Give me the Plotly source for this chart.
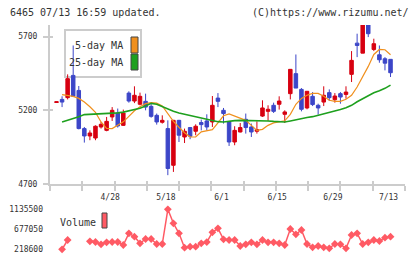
import plotly.graph_objects as go

# ---------------- data ----------------
idx = list(range(61))
opens = [5253, 5274, 5286, 5437, 5335, 5076, 5026, 5012, 5087, 5064,
         5155, 5182, 5098, 5317, 5263, 5241, 5261, 5227, 5166, 5119,
         5076, 4827, 5132, 5019, 5083, 5058, 5117, 5128, 5121, 5283,
         5200, 5121, 4985, 5053, 5139, 5087, 5058, 5161, 5193, 5234,
         5241, 5173, 5313, 5449, 5342, 5216, 5295, 5234, 5256, 5320,
         5272, 5313, 5308, 5444, 5656, 5588, 5800, 5613, 5577, 5550,
         5546]
highs = [5258, 5295, 5444, 5640, 5365, 5087, 5064, 5098, 5121, 5155,
         5222, 5212, 5205, 5329, 5363, 5320, 5313, 5245, 5178, 5166,
         5132, 5135, 5135, 5076, 5087, 5105, 5137, 5173, 5297, 5317,
         5216, 5125, 5092, 5114, 5178, 5110, 5125, 5268, 5234, 5252,
         5295, 5200, 5480, 5579, 5351, 5329, 5324, 5245, 5363, 5342,
         5317, 5324, 5363, 5602, 5720, 5800, 5810, 5686, 5640, 5561,
         5546]
lows = [5253, 5222, 5274, 5290, 5071, 4981, 4997, 4997, 5076, 5058,
        5128, 5083, 5094, 5252, 5249, 5234, 5200, 5150, 5103, 5110,
        4760, 4782, 4985, 4978, 5004, 5031, 5064, 5064, 5087, 5222,
        5110, 4958, 4963, 5050, 5042, 5019, 5042, 5155, 5128, 5182,
        5205, 5114, 5274, 5351, 5193, 5207, 5229, 5171, 5229, 5263,
        5252, 5245, 5279, 5392, 5561, 5588, 5697, 5602, 5523, 5471,
        5426]
closes = [5258, 5256, 5415, 5295, 5076, 5026, 5046, 5092, 5105, 5125,
          5200, 5094, 5182, 5263, 5302, 5295, 5222, 5159, 5121, 5132,
          4805, 5132, 5031, 5058, 5024, 5092, 5103, 5087, 5234, 5261,
          5178, 4985, 5064, 5083, 5083, 5053, 5069, 5216, 5207, 5193,
          5263, 5189, 5478, 5351, 5207, 5329, 5239, 5216, 5302, 5286,
          5297, 5290, 5324, 5539, 5640, 5790, 5720, 5652, 5543, 5520,
          5455]
ma5 = [None, 5306, 5302, 5295, 5281, 5256, 5224, 5186, 5121, 5078,
       5076, 5098, 5122, 5159, 5197, 5224, 5245, 5252, 5249, 5230,
       5173, 5125, 5085, 5048, 5020, 5019, 5054, 5064, 5069, 5114,
       5163, 5176, 5163, 5148, 5132, 5098, 5064, 5071, 5098, 5115,
       5122, 5129, 5173, 5241, 5281, 5302, 5315, 5315, 5295, 5268,
       5261, 5261, 5275, 5302, 5358, 5427, 5498, 5579, 5613, 5611,
       5577]
ma25 = [None, 5121, 5132, 5146, 5156, 5171, 5173, 5173, 5175, 5176,
        5178, 5183, 5188, 5197, 5203, 5214, 5230, 5247, 5241, 5224,
        5207, 5193, 5182, 5173, 5166, 5156, 5146, 5136, 5130, 5123,
        5121, 5128, 5130, 5132, 5132, 5132, 5129, 5128, 5128, 5125,
        5123, 5121, 5128, 5137, 5144, 5151, 5157, 5166, 5176, 5186,
        5195, 5205, 5217, 5234, 5258, 5278, 5297, 5319, 5333, 5349,
        5371]
volume = [None, 218600, 432000, None, None, None, 402000, 386000, 333000, 379000,
          386000, 386000, 317000, 585000, 508000, 356000, 455000, 455000, 340000, 340000,
          1135500, 815000, 585000, 255000, 278000, 278000, 356000, 385000, 608000, 700000,
          448000, 432000, 432000, 294000, 333000, 379000, 333000, 432000, 379000, 379000,
          356000, 317000, 684000, 562000, 661000, 340000, 264000, 294000, 264000, 241000,
          340000, 333000, 241000, 546000, 585000, 340000, 379000, 432000, 409000, 485000,
          508000]
xlabel_idx = [10, 20, 30, 40, 50, 60]
xlabels = ["4/28", "5/18", "6/1", "6/15", "6/29", "7/13"]
price_ticks = [4700, 5200, 5700]
vol_ticks = [218600, 677050, 1135500]
vol_ticktext = ["218600", "677050", "1135500"]

# ---------------- layout helpers ----------------
W, H = 420, 259
ML, MR, MT, MB = 50, 15, 25, 5
PW, PH = W - ML - MR, H - MT - MB
def px(x): return (x - ML) / PW
def py(y): return (H - MB - y) / PH

XR = [-1.168, 62.6]
grid_ticks = [XR[0] + k * (XR[1] - XR[0]) / 11 for k in range(12)]
FONT = "DejaVu Sans Mono"
TXT = "#333333"
GRAY = "#cccccc"
RED, BLUE = "#d70010", "#3c46c8"
ORANGE, GREEN, VOLC = "#f0901e", "#1ea01e", "#ff5a64"

fig = go.Figure()
fig.add_trace(go.Candlestick(
    x=idx, open=opens, high=highs, low=lows, close=closes,
    increasing=dict(line=dict(color=RED, width=1), fillcolor=RED),
    decreasing=dict(line=dict(color=BLUE, width=1), fillcolor=BLUE),
    whiskerwidth=0, showlegend=False, hoverinfo="skip"))
fig.add_trace(go.Scatter(x=idx, y=ma5, mode="lines", line=dict(color=ORANGE, width=1.2),
                         showlegend=False, hoverinfo="skip"))
fig.add_trace(go.Scatter(x=idx, y=ma25, mode="lines", line=dict(color=GREEN, width=1.6),
                         showlegend=False, hoverinfo="skip"))
fig.add_trace(go.Scatter(x=idx, y=volume, mode="lines+markers", xaxis="x2", yaxis="y2",
                         line=dict(color=VOLC, width=1.5),
                         marker=dict(symbol="diamond", size=6, color=VOLC),
                         connectgaps=False, showlegend=False, hoverinfo="skip", cliponaxis=False))
# dummy traces to activate overlay axes
fig.add_trace(go.Scatter(x=[None], y=[None], xaxis="x3", yaxis="y", showlegend=False))
fig.add_trace(go.Scatter(x=[None], y=[None], xaxis="x4", yaxis="y", showlegend=False))
fig.add_trace(go.Scatter(x=[None], y=[None], xaxis="x", yaxis="y3", showlegend=False))

main_dom = [py(184), 1.0]
YR = [4700, 5779]
tickfont = dict(family=FONT, size=8, color=TXT)

fig.update_layout(
    width=W, height=H, margin=dict(l=ML, r=MR, t=MT, b=MB, autoexpand=False),
    paper_bgcolor="white", plot_bgcolor="white", boxgap=0.1,
    xaxis=dict(domain=[0, 1], range=XR, tickmode="array", tickvals=grid_ticks,
               showticklabels=False, ticks="outside", ticklen=5, tickwidth=2, tickcolor=GRAY,
               showline=True, linecolor=GRAY, linewidth=2, showgrid=False, zeroline=False,
               rangeslider=dict(visible=False), anchor="y", automargin=False),
    xaxis3=dict(overlaying="x", range=XR, tickmode="array", tickvals=grid_ticks,
                showticklabels=False, ticks="inside", ticklen=3, tickwidth=2, tickcolor=GRAY,
                showline=False, showgrid=False, zeroline=False, anchor="y", automargin=False),
    xaxis4=dict(overlaying="x", range=XR, tickmode="array", tickvals=xlabel_idx, ticktext=xlabels,
                ticks="", showline=False, showgrid=False, zeroline=False, anchor="y",
                tickfont=tickfont, ticklabelstandoff=7, ticklabelshift=-2, automargin=False),
    yaxis=dict(domain=main_dom, range=YR, tickmode="array", tickvals=price_ticks,
               ticks="outside", ticklen=5, tickwidth=2, tickcolor=GRAY,
               showline=True, linecolor=GRAY, linewidth=2, showgrid=False, zeroline=False,
               tickfont=tickfont, ticklabelstandoff=4, anchor="x", automargin=False),
    yaxis3=dict(overlaying="y", range=YR, tickmode="array", tickvals=price_ticks,
                ticks="inside", ticklen=3, tickwidth=2, tickcolor=GRAY, showticklabels=False,
                showline=False, showgrid=False, zeroline=False, anchor="x", automargin=False),
    xaxis2=dict(domain=[0, 1], range=XR, visible=False, anchor="y2", automargin=False),
    yaxis2=dict(domain=[0, py(205)], range=[110867, 1234065], tickmode="array",
                tickvals=vol_ticks, ticktext=vol_ticktext, ticks="", showline=False,
                showgrid=False, zeroline=False, tickfont=tickfont, ticklabelstandoff=6,
                anchor="x2", automargin=False),
)

shapes = [
    dict(type="rect", xref="paper", yref="paper", x0=px(65), x1=px(141), y0=py(30), y1=py(77),
         line=dict(color=GRAY, width=2), fillcolor="white", layer="below"),
    dict(type="rect", xref="paper", yref="paper", x0=px(131), x1=px(138), y0=py(37), y1=py(53),
         line=dict(color="#444444", width=1), fillcolor=ORANGE),
    dict(type="rect", xref="paper", yref="paper", x0=px(131), x1=px(138), y0=py(54), y1=py(70),
         line=dict(color="#444444", width=1), fillcolor=GREEN),
    dict(type="rect", xref="paper", yref="paper", x0=px(102), x1=px(107), y0=py(213), y1=py(228),
         line=dict(color="#444444", width=1), fillcolor=VOLC),
]
fig.update_layout(shapes=shapes)

def ann(text, x, y, anchor, size):
    return dict(text=text, xref="paper", yref="paper", x=px(x), y=py(y), xanchor=anchor,
                yanchor="middle", showarrow=False, font=dict(family=FONT, size=size, color=TXT))

fig.update_layout(annotations=[
    ann("6465 07/13 16:59 updated.", 8, 12.5, "left", 10),
    ann("(C)https://www.rizumu.net/", 411, 12.5, "right", 10),
    ann("5-day MA", 125, 45.5, "right", 10),
    ann("25-day MA", 125, 62.5, "right", 10),
    ann("Volume", 58, 222, "left", 10),
])

fig.write_html("out.html")
